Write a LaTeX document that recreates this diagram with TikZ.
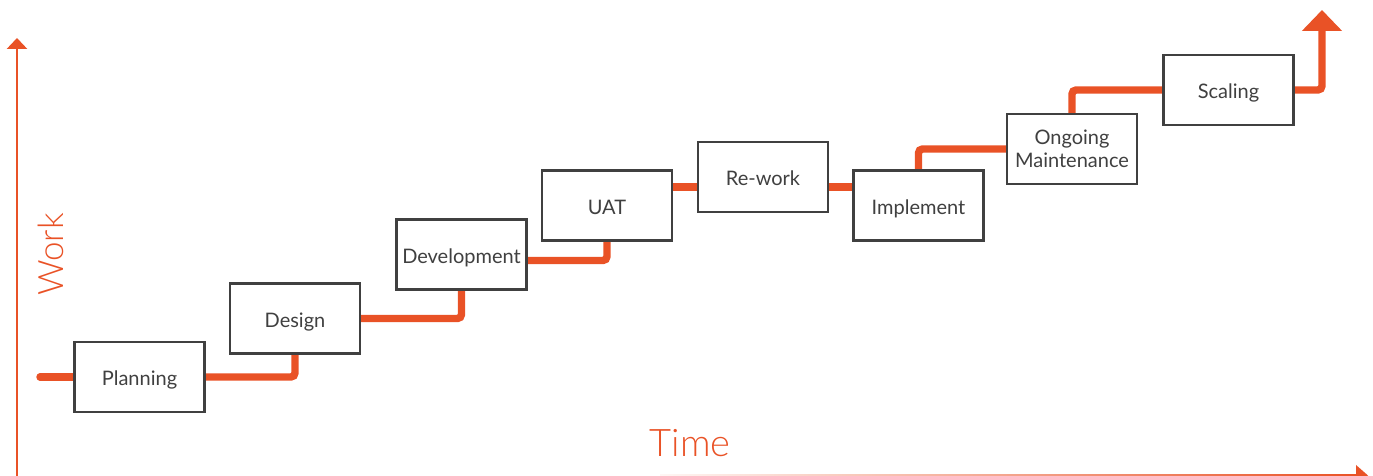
\documentclass[tikz,border=0pt]{standalone}
\usepackage{fontspec}
\setmainfont{Lato}
\newfontfamily\thinfont{Lato}[UprightFont=* Light]
\usetikzlibrary{arrows.meta,backgrounds}
\definecolor{stepred}{RGB}{233,82,38}
\definecolor{boxgray}{RGB}{64,64,64}

\begin{document}
\begin{tikzpicture}[x=0.5pt,y=0.5pt,
  phase/.style={draw=boxgray,line width=1.2pt,fill=white,minimum width=65pt,minimum height=35pt,inner sep=0pt,text=boxgray,font=\fontsize{10}{11.5}\selectfont,align=center},
  stage/.style={phase,text height=9pt,text depth=0pt},
  flow/.style={draw=stepred,line width=3.7pt,rounded corners=2pt},
  axislabel/.style={text=stepred,font=\thinfont\fontsize{19}{19}\selectfont}]
\useasboundingbox (0,0) rectangle (1373,476);
\draw [stepred,line width=1.4pt,-{Triangle[width=10pt,length=5.5pt]}] (17,-2)--(17,438);
\shade [left color=stepred!5,right color=stepred] (660,-0.5) rectangle (1356,1.5);
\fill [stepred] (1356,-10) -- (1368,0.5) -- (1356,11) -- cycle;
\node [axislabel,rotate=90,font=\thinfont\fontsize{17.5}{17.5}\selectfont] (work) at (51,221.5) {Work};
\node [axislabel] (time) at (690,33) {Time};
\node [stage] (planning) at (139.5,99) {Planning};
\node [stage] (design) at (295,157.5) {Design};
\node [stage] (development) at (461.5,221.5) {Development};
\node [stage] (uat) at (607,270.5) {UAT};
\node [stage] (rework) at (763,299) {Re-work};
\node [stage] (implement) at (918.5,270.5) {Implement};
\node [phase] (ongoing) at (1072,327) {Ongoing\\Maintenance};
\node [stage] (scaling) at (1228.5,386) {Scaling};
\coordinate (start) at (40,99);
\coordinate (link) at ([yshift=-5pt]rework.west);
\coordinate (top) at (1322,466);
\begin{scope}[on background layer]
\draw [flow,line cap=round] (start) -- (planning);
\draw [flow] (planning) -| (design);
\draw [flow] (design) -| (development);
\draw [flow] ([yshift=-3pt]development.east) -| (uat);
\draw [flow] (link -| uat.east) -- (link);
\draw [flow] (link -| rework.east) -- (link -| implement.west);
\draw [flow] (implement) |- (ongoing);
\draw [flow] (ongoing) |- (scaling);
\draw [flow,-{Triangle[width=19.5pt,length=10.5pt]}] (scaling) -| (top);
\end{scope}
\end{tikzpicture}
\end{document}
